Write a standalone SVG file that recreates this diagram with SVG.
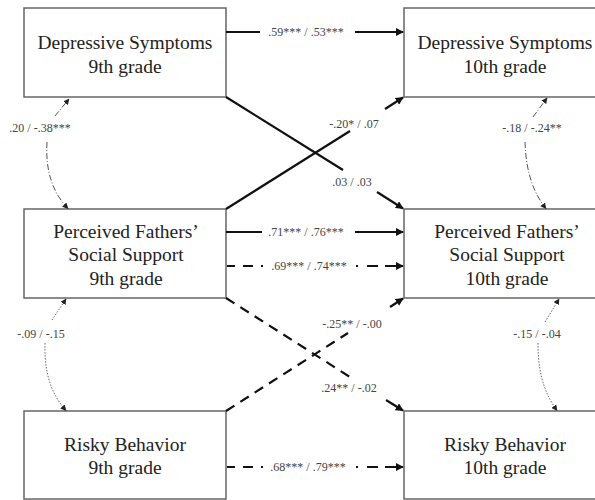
<svg xmlns="http://www.w3.org/2000/svg" width="595" height="500" viewBox="0 0 595 500">
<defs>
<marker id="ah" viewBox="0 0 10 10" refX="9" refY="5" markerWidth="8" markerHeight="8" markerUnits="userSpaceOnUse" orient="auto">
<path d="M0,0 L10,5 L0,10 z" fill="#111"/>
</marker>
<marker id="ahs" viewBox="0 0 10 10" refX="9" refY="5" markerWidth="6" markerHeight="6" markerUnits="userSpaceOnUse" orient="auto">
<path d="M0,0 L10,5 L0,10 z" fill="#222"/>
</marker>
</defs>
<style>
.box{fill:#fff;stroke:#666;stroke-width:1.5}
.t{font-family:'Liberation Serif','DejaVu Serif',serif;font-size:19.5px;fill:#222;text-anchor:middle}
.l{font-family:'Liberation Serif','DejaVu Serif',serif;font-size:12px;fill:#444;text-anchor:middle}
.s{fill:none;stroke:#111;stroke-width:2.2}
.d{fill:none;stroke:#111;stroke-width:2.2;stroke-dasharray:10 7}
.dd{fill:none;stroke:#555;stroke-width:1;stroke-dasharray:6 2 1 2}
.dt{fill:none;stroke:#666;stroke-width:1;stroke-dasharray:1.5 1.5}
</style>
<rect width="595" height="500" fill="#fff"/>
<g id="dep9"><rect class="box" x="24" y="8" width="202" height="89"/><text class="t" x="125" y="49">Depressive Symptoms</text><text class="t" x="125" y="73">9th grade</text></g>
<g id="dep10"><rect class="box" x="404" y="8" width="205" height="89"/><text class="t" x="505" y="49">Depressive Symptoms</text><text class="t" x="505" y="73">10th grade</text></g>
<g id="pfs9"><rect class="box" x="24" y="209" width="202" height="89"/><text class="t" x="126" y="238">Perceived Fathers’</text><text class="t" x="126" y="261">Social Support</text><text class="t" x="126" y="285">9th grade</text></g>
<g id="pfs10"><rect class="box" x="404" y="209" width="205" height="89"/><text class="t" x="507" y="238">Perceived Fathers’</text><text class="t" x="507" y="261">Social Support</text><text class="t" x="507" y="285">10th grade</text></g>
<g id="rb9"><rect class="box" x="24" y="411" width="202" height="88"/><text class="t" x="125" y="451">Risky Behavior</text><text class="t" x="125" y="474">9th grade</text></g>
<g id="rb10"><rect class="box" x="404" y="411" width="205" height="88"/><text class="t" x="505" y="451">Risky Behavior</text><text class="t" x="505" y="474">10th grade</text></g>
<g id="connectors">
<path class="s" d="M226,32 L260,32"/><path class="s" d="M355,32 L403,32" marker-end="url(#ah)"/>
<text class="l" x="306" y="36">.59*** / .53***</text>
<path class="s" d="M226,232 L262,232"/><path class="s" d="M355,232 L403,232" marker-end="url(#ah)"/>
<text class="l" x="306" y="236">.71*** / .76***</text>
<path class="s" d="M227,266 L263,266" style="stroke-dasharray:8 8 10 8 2 100"/><path class="s" d="M356,266 L403,266" style="stroke-dasharray:2 9 11 7 100" marker-end="url(#ah)"/>
<text class="l" x="309" y="270">.69*** / .74***</text>
<path class="s" d="M227,467 L263,467" style="stroke-dasharray:8 8 10 8 2 100"/><path class="s" d="M356,467 L403,467" style="stroke-dasharray:2 9 11 7 100" marker-end="url(#ah)"/>
<text class="l" x="308" y="471">.68*** / .79***</text>
<path class="s" d="M226,97 L343,170"/><path class="s" d="M377,192 L403,208.5" marker-end="url(#ah)"/>
<text class="l" x="352" y="186">.03 / .03</text>
<path class="s" d="M226,209 L350,131"/><path class="s" d="M385,109 L403,97.5" marker-end="url(#ah)"/>
<text class="l" x="354" y="128">-.20* / .07</text>
<path class="d" d="M226,298 L350,377"/><path class="d" d="M386,400 L403,410.5" marker-end="url(#ah)" style="stroke-dasharray:none"/>
<text class="l" x="349" y="392">.24** / -.02</text>
<path class="d" d="M226,411 L348,333"/><path class="d" d="M390,307 L403,298.5" marker-end="url(#ah)" style="stroke-dasharray:none"/>
<text class="l" x="352" y="328">-.25** / -.00</text>
<path class="dd" d="M55,116 L69,99" marker-end="url(#ahs)"/><path class="dd" d="M47,142 C45,175 55,195 68,208.5" marker-end="url(#ahs)"/>
<text class="l" x="40" y="132">.20 / -.38***</text>
<path class="dt" d="M52,320 L66,299" marker-end="url(#ahs)"/><path class="dt" d="M45,343 C44,380 55,398 66,410.5" marker-end="url(#ahs)"/>
<text class="l" x="41" y="338">-.09 / -.15</text>
<path class="dd" d="M533,117 L547,98" marker-end="url(#ahs)"/><path class="dd" d="M525,142 C526,175 535,195 546,208.5" marker-end="url(#ahs)"/>
<text class="l" x="532" y="132">-.18 / -.24**</text>
<path class="dt" d="M545,322 L559,299" marker-end="url(#ahs)"/><path class="dt" d="M538,343 C538,380 548,398 557,410.5" marker-end="url(#ahs)"/>
<text class="l" x="537" y="338">-.15 / -.04</text>
</g>
</svg>
